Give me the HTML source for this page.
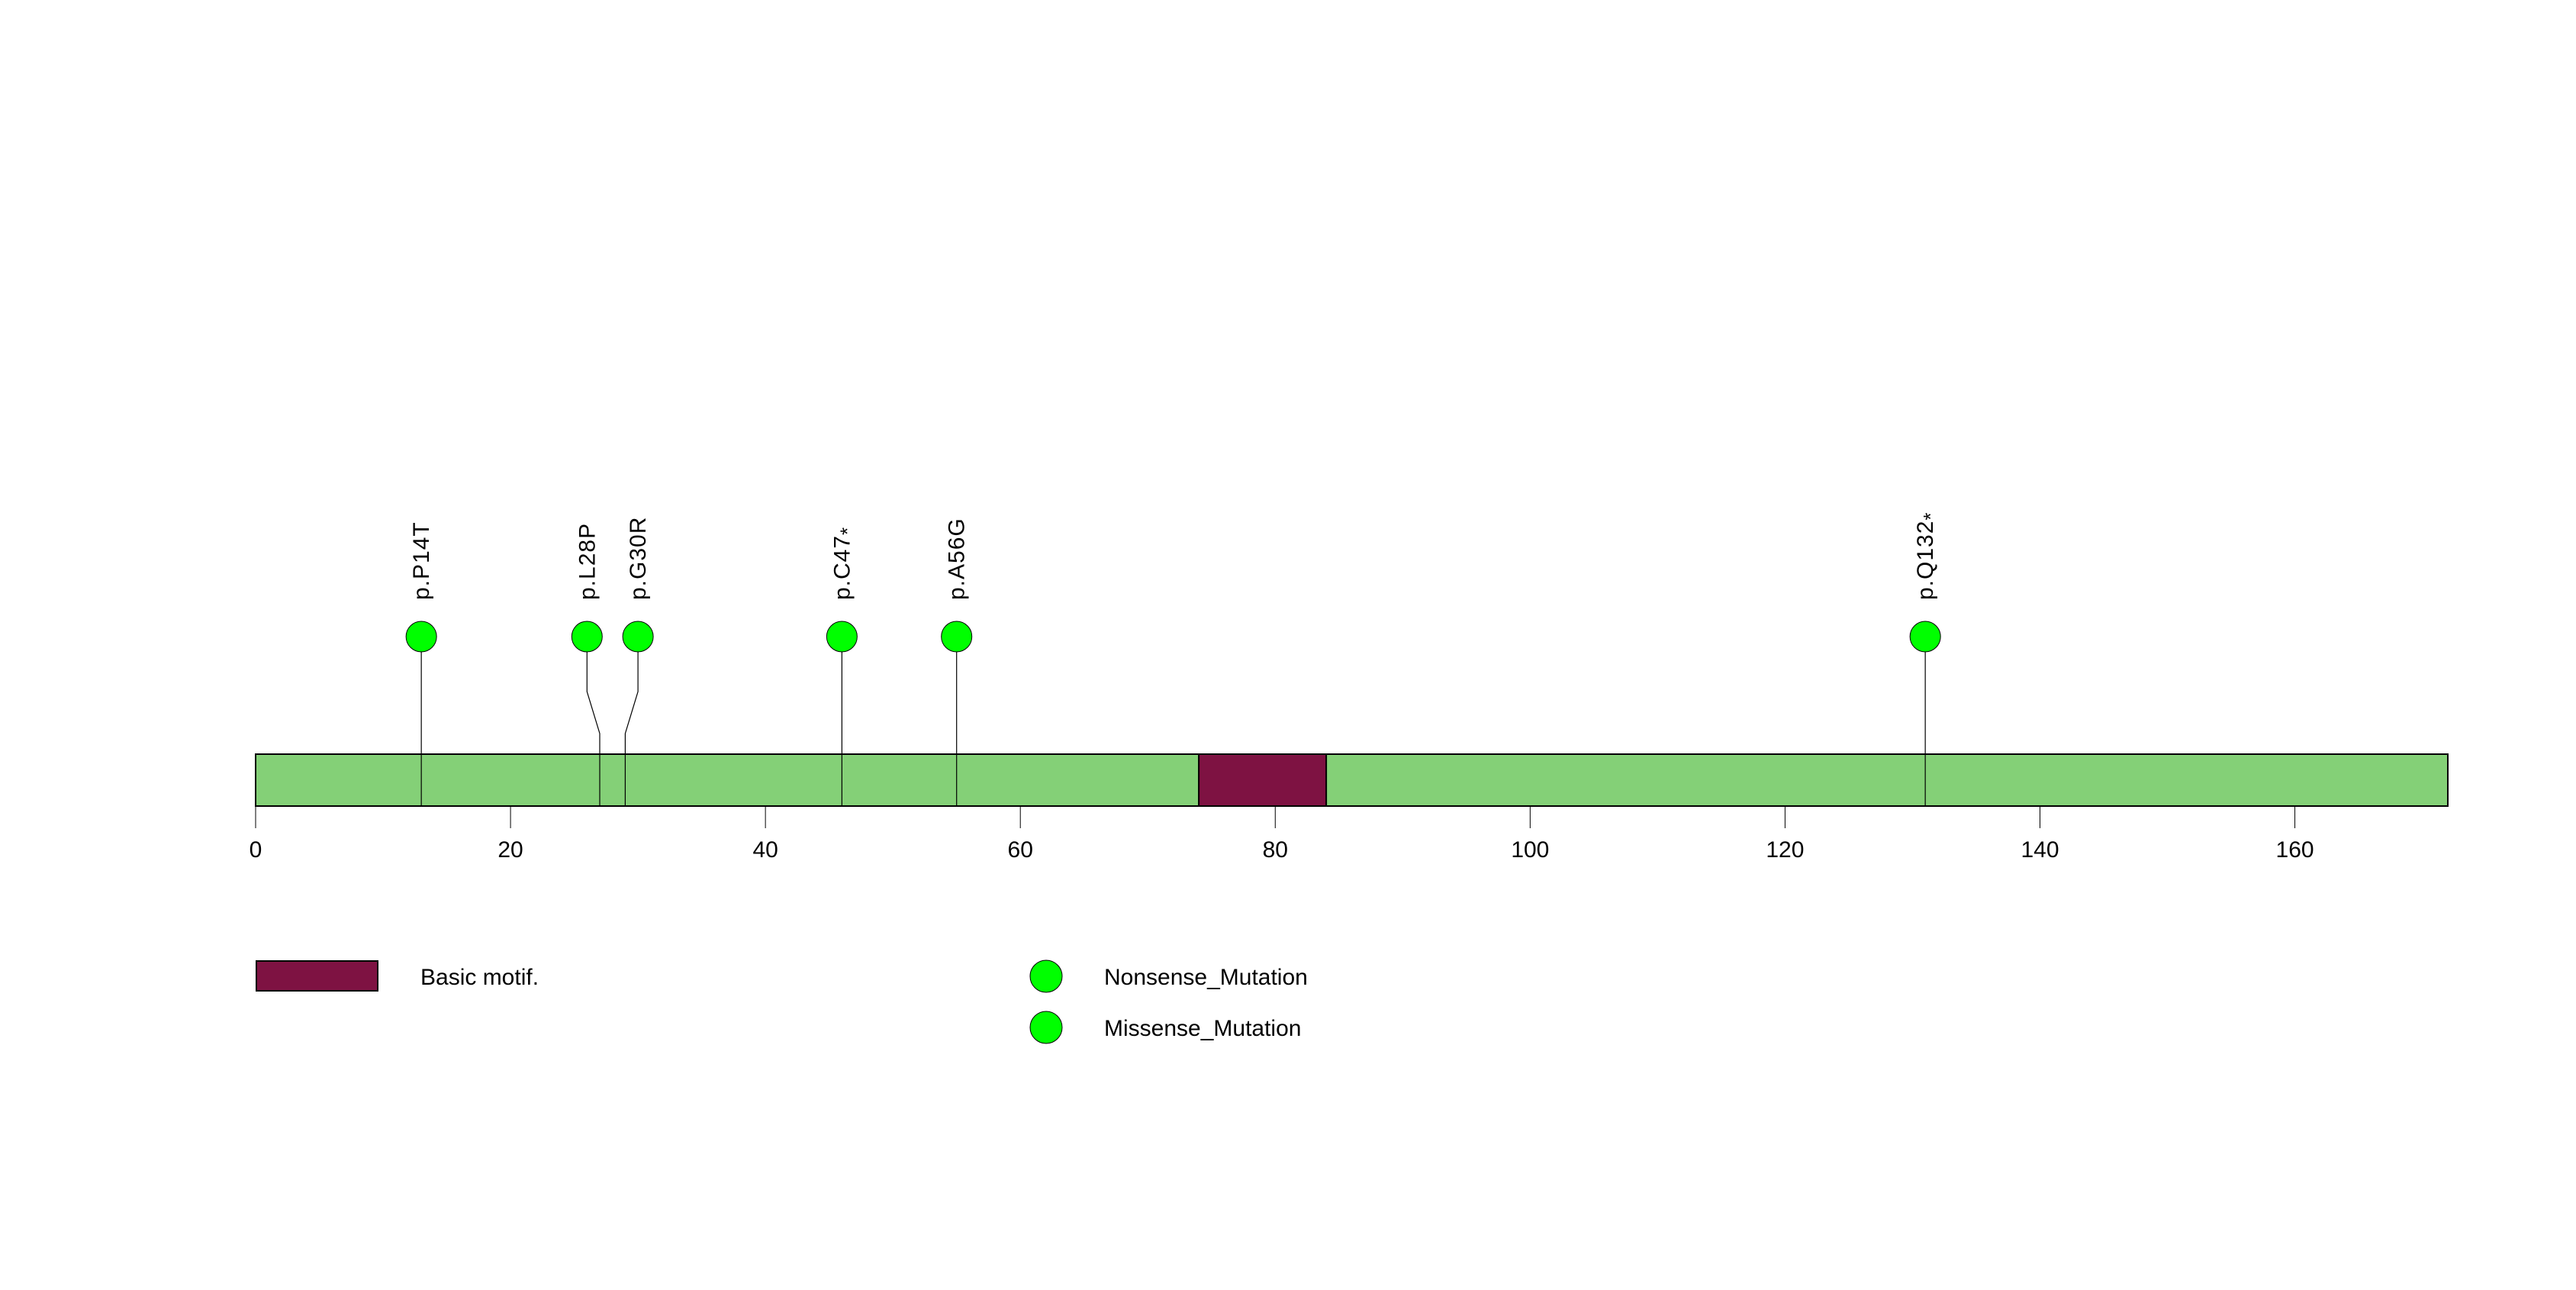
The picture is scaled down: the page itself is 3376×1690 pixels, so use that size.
<!DOCTYPE html>
<html><head><meta charset="utf-8"><style>
html,body{margin:0;padding:0;background:#fff}
svg{display:block}
text{font-family:"Liberation Sans",sans-serif}
</style></head><body>
<svg id="chart" width="3376" height="1690" viewBox="0 0 3376 1690" xmlns="http://www.w3.org/2000/svg">
<rect width="3376" height="1690" fill="#fff"/>
<g id="plot"></g>
<g id="legend">
  <rect x="336" y="1259" width="159" height="39" fill="#7e1242" stroke="#000" stroke-width="2"/>
  <text x="551" y="1290" font-size="30">Basic motif.</text>
  <circle cx="1371" cy="1279" r="21" fill="#00ff00" stroke="#000" stroke-width="1"/>
  <text x="1447" y="1290" font-size="30">Nonsense_Mutation</text>
  <circle cx="1371" cy="1346" r="21" fill="#00ff00" stroke="#000" stroke-width="1"/>
  <text x="1447" y="1357" font-size="30">Missense_Mutation</text>
</g>
</svg>
<script>
const proteinLength = 172;
const domainNames = ["Basic motif."];
const domainStart = [74];
const domainEnd = [84];
const mutLabels = ["p.P14T","p.L28P","p.G30R","p.C47","p.A56G","p.Q132"];
const mutStar = [false,false,false,true,false,true];
const mutPos = [13,27,29,46,55,131];
const mutDisplayPos = [13,26,30,46,55,131];
const tickValues = [0,20,40,60,80,100,120,140,160];

const NS="http://www.w3.org/2000/svg";
const g=document.getElementById('plot');
const x0=335, x1=3208;
const X=v=>x0+(v/proteinLength)*(x1-x0);
const barTop=988, barBot=1056, cy=834, r=20;
function mk(t,a){const e=document.createElementNS(NS,t);for(const k in a)e.setAttribute(k,a[k]);g.appendChild(e);return e;}

let e=mk('rect',{x:X(0),y:barTop,width:X(proteinLength)-X(0),height:barBot-barTop,fill:'#84d077',stroke:'#000','stroke-width':2});


domainStart.forEach((s,i)=>{
  const d=mk('rect',{x:X(s),y:barTop,width:X(domainEnd[i])-X(s),height:barBot-barTop,fill:'#7e1242',stroke:'#000','stroke-width':2});
  
  
});
tickValues.forEach(v=>{
  const t=mk('line',{x1:X(v),x2:X(v),y1:barBot,y2:1085,stroke:'#000','stroke-width':1});
  
  
  const l=mk('text',{x:X(v),y:1123,'font-size':30,'text-anchor':'middle'});
  l.textContent=v;
  
  
});
mutPos.forEach((p,i)=>{
  const xb=X(p), xc=X(mutDisplayPos[i]);
  const pl=mk('polyline',{points:`${xc},${cy+r} ${xc},906 ${xb},961 ${xb},${barBot}`,fill:'none',stroke:'#000','stroke-width':1.2});
  
  
  const c=mk('circle',{cx:xc,cy:cy,r:r,fill:'#00ff00',stroke:'#000','stroke-width':1});
  
  
  const t=mk('text',{x:0,y:0,'font-size':30,'letter-spacing':1,transform:`translate(${xc+10},786) rotate(-90)`});
  t.textContent=mutLabels[i];
  if(mutStar[i]){const s=document.createElementNS(NS,'tspan');s.setAttribute('font-size','26');s.setAttribute('dy','6');s.textContent='*';t.appendChild(s);}
  
  
});
</script>
</body></html>
